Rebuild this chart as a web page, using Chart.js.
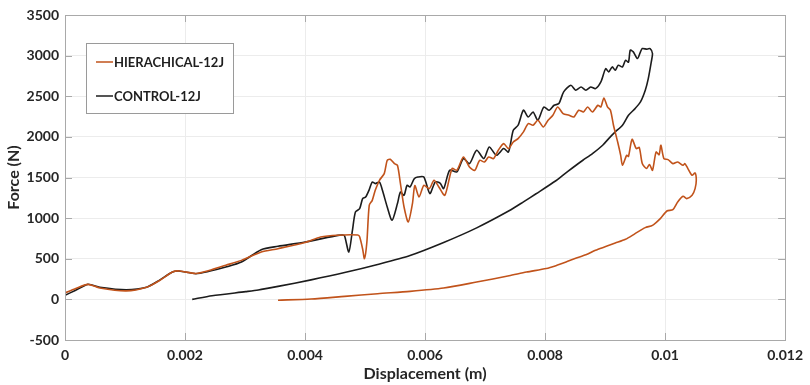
<!DOCTYPE html>
<html>
<head>
<meta charset="utf-8">
<script src="https://cdn.jsdelivr.net/npm/chart.js@4.4.1/dist/chart.umd.min.js"></script>
<style>
  html, body { margin: 0; padding: 0; background: #fff; }
  #wrap { width: 810px; height: 385px; }
</style>
</head>
<body>
<div id="wrap"><canvas id="forceChart" width="810" height="385"></canvas></div>
<script>
// HIERACHICAL-12J: loading then unloading (displacement in m, force in N)
const hierDisp = [
  0, 0.00017, 0.00038, 0.00058, 0.00102, 0.00136, 0.00157, 0.00179, 0.0019, 0.00218,
  0.0024, 0.00268, 0.00294, 0.00327, 0.00355, 0.004, 0.00426, 0.00455, 0.00488, 0.00491,
  0.00496, 0.00499, 0.00503, 0.00507, 0.00512, 0.00517, 0.00524, 0.00532, 0.00537, 0.00542,
  0.00549, 0.00554, 0.00559, 0.00565, 0.00572, 0.00579, 0.00583, 0.0059, 0.00598, 0.00607,
  0.00615, 0.00623, 0.00633, 0.00645, 0.00653, 0.00664, 0.00674, 0.00683, 0.00691, 0.00699,
  0.00706, 0.00714, 0.00722, 0.00731, 0.00739, 0.00747, 0.00755, 0.00764, 0.00772, 0.0078,
  0.00788, 0.00797, 0.00805, 0.00813, 0.00821, 0.0083, 0.0084, 0.00848, 0.00856, 0.00864,
  0.00871, 0.00879, 0.00888, 0.00893, 0.00898, 0.00904, 0.00909, 0.00914, 0.00921, 0.00926,
  0.00929, 0.00936, 0.00939, 0.00945, 0.00952, 0.00957, 0.00962, 0.00969, 0.00974, 0.00979,
  0.00985, 0.0099, 0.00993, 0.00998, 0.01005, 0.01013, 0.01021, 0.0103, 0.01033, 0.01038,
  0.01045, 0.0105, 0.01052,
  0.0105, 0.01045, 0.01036, 0.0103, 0.01021, 0.01013, 0.01003, 0.00992, 0.00979, 0.00967,
  0.0095, 0.00934, 0.00917, 0.00901, 0.00884, 0.00868, 0.00851, 0.00835, 0.00818, 0.00802,
  0.00769, 0.0074, 0.00686, 0.00631, 0.00575, 0.00521, 0.00466, 0.0041, 0.00355
];
const hierForce = [
  80, 130, 185, 140, 105, 150, 230, 336, 350, 318,
  355, 420, 480, 583, 624, 700, 767, 790, 792, 770,
  620, 501, 700, 1158, 1219, 1342, 1466, 1548, 1712, 1724,
  1671, 1650, 1425, 1137, 952, 1179, 1400, 1260, 1404, 1363,
  1466, 1383, 1281, 1610, 1589, 1752, 1629, 1589, 1712, 1691,
  1752, 1733, 1835, 1917, 1856, 1937, 1979, 2061, 2163, 2143,
  2204, 2122, 2204, 2266, 2368, 2287, 2266, 2245, 2328, 2307,
  2368, 2307, 2389, 2368, 2479, 2368, 2328, 2143, 1937, 1773,
  1650, 1773, 1760, 1970, 1856, 1870, 1671, 1610, 1660, 1589,
  1814, 1780, 1897, 1733, 1720, 1671, 1690, 1650, 1671, 1610,
  1527, 1556, 1466,
  1363, 1281, 1240, 1268, 1198, 1104, 1088, 994, 911, 883,
  809, 739, 693, 650, 605, 548, 505, 460, 415, 380,
  336, 290, 213, 139, 98, 70, 37, 4, -10
];

// CONTROL-12J
const ctrlDisp = [
  0, 0.00017, 0.00038, 0.00058, 0.00102, 0.00136, 0.00157, 0.00179, 0.0019, 0.00218,
  0.0024, 0.00268, 0.00294, 0.00327, 0.00355, 0.004, 0.00455, 0.00463, 0.00466, 0.00473,
  0.00479, 0.00484, 0.00491, 0.00496, 0.00501, 0.00507, 0.00512, 0.00517, 0.00524, 0.00529,
  0.00537, 0.00545, 0.00554, 0.00559, 0.00565, 0.0057, 0.00575, 0.00582, 0.00588, 0.00598,
  0.00608, 0.00617, 0.00625, 0.00631, 0.00641, 0.00653, 0.00664, 0.00674, 0.00686, 0.00698,
  0.00707, 0.00719, 0.00731, 0.00739, 0.00747, 0.00755, 0.00764, 0.00772, 0.0078, 0.00788,
  0.00798, 0.00807, 0.00815, 0.00823, 0.00831, 0.00843, 0.00851, 0.0086, 0.00868, 0.00876,
  0.00884, 0.00893, 0.00901, 0.00906, 0.00912, 0.00917, 0.00922, 0.00929, 0.00934, 0.00939,
  0.00942, 0.00947, 0.00954, 0.00959, 0.00962, 0.0097, 0.00975, 0.00979,
  0.00977, 0.00972, 0.00967, 0.00959, 0.0095, 0.00939, 0.00929, 0.00917, 0.00906, 0.00896,
  0.00879, 0.00863, 0.00846, 0.0083, 0.00818, 0.00785, 0.00764, 0.0074, 0.00686, 0.00631,
  0.00575, 0.00521, 0.00466, 0.0041, 0.00355, 0.00322, 0.00301, 0.00245, 0.00212
];
const ctrlForce = [
  50, 110, 185, 150, 119, 150, 234, 336, 349, 316,
  345, 398, 460, 612, 653, 706, 788, 792, 780, 583,
  850, 1075, 1117, 1240, 1260, 1351, 1445, 1425, 1445, 1342,
  1137, 973, 1179, 1321, 1281, 1404, 1383, 1486, 1506, 1506,
  1302, 1445, 1430, 1363, 1589, 1568, 1733, 1671, 1835, 1733,
  1876, 1773, 1856, 1814, 2081, 2143, 2328, 2245, 2307, 2204,
  2368, 2328, 2389, 2410, 2554, 2635, 2574, 2614, 2574, 2614,
  2594, 2676, 2840, 2799, 2861, 2820, 2882, 2860, 2943, 2920,
  3067, 3046, 2964, 3046, 3087, 3079, 3087, 3026,
  2923, 2717, 2574, 2430, 2348, 2266, 2143, 2061, 1979, 1897,
  1794, 1712, 1620, 1530, 1460, 1300, 1200, 1090, 880, 700,
  540, 430, 330, 240, 160, 115, 95, 45, 0
];

const seriesNames = ['HIERACHICAL-12J', 'CONTROL-12J'];
const seriesColors = ['#c1531b', '#1c1c1c'];

const xTicks = { min: 0, max: 0.012, step: 0.002 };
const yTicks = { min: -500, max: 3500, step: 500 };

const FONT = 'Lato';
const TEXT = '#262626';
const BOX = '#a9a9a9';

function toPoints(xs, ys) {
  return xs.map((x, i) => ({ x: x, y: ys[i] }));
}

// box, inward ticks and the legend box, MATLAB style
const framePlugin = {
  id: 'frame',
  afterDraw(chart) {
    const ctx = chart.ctx;
    const a = chart.chartArea;
    const xs = chart.scales.x, ys = chart.scales.y;
    ctx.save();
    ctx.strokeStyle = BOX;
    ctx.lineWidth = 1;
    ctx.strokeRect(Math.round(a.left) + 0.5, Math.round(a.top) + 0.5,
      Math.round(a.right - a.left), Math.round(a.bottom - a.top));
    ctx.beginPath();
    xs.ticks.forEach(t => {
      const px = Math.round(xs.getPixelForValue(t.value)) + 0.5;
      ctx.moveTo(px, a.bottom); ctx.lineTo(px, a.bottom - 7);
      ctx.moveTo(px, a.top); ctx.lineTo(px, a.top + 7);
    });
    ys.ticks.forEach(t => {
      const py = Math.round(ys.getPixelForValue(t.value)) + 0.5;
      ctx.moveTo(a.left, py); ctx.lineTo(a.left + 7, py);
      ctx.moveTo(a.right, py); ctx.lineTo(a.right - 7, py);
    });
    ctx.stroke();

    // legend
    const lx = 86.5, ly = 43.5, lw = 147, lh = 70;
    ctx.fillStyle = '#ffffff';
    ctx.fillRect(lx, ly, lw, lh);
    ctx.strokeStyle = '#9a9a9a';
    ctx.strokeRect(lx, ly, lw, lh);
    ctx.font = 'bold 13px ' + FONT;
    ctx.textBaseline = 'middle';
    ctx.textAlign = 'left';
    [62, 96].forEach((yy, i) => {
      ctx.strokeStyle = seriesColors[i];
      ctx.lineWidth = 1.5;
      ctx.beginPath();
      ctx.moveTo(96, yy); ctx.lineTo(113, yy);
      ctx.stroke();
      ctx.fillStyle = '#1e1e1e';
      ctx.fillText(seriesNames[i], 114, yy + 1);
    });
    ctx.restore();
  }
};

new Chart(document.getElementById('forceChart'), {
  type: 'line',
  data: {
    datasets: [
      {
        label: seriesNames[0],
        data: toPoints(hierDisp, hierForce),
        borderColor: seriesColors[0],
        borderWidth: 1.6,
        pointRadius: 0,
        tension: 0.25,
        fill: false
      },
      {
        label: seriesNames[1],
        data: toPoints(ctrlDisp, ctrlForce),
        borderColor: seriesColors[1],
        borderWidth: 1.6,
        pointRadius: 0,
        tension: 0.25,
        fill: false
      }
    ]
  },
  options: {
    responsive: false,
    animation: false,
    layout: { padding: { left: 0, right: 19, top: 15, bottom: 0 } },
    plugins: {
      legend: { display: false },
      tooltip: { enabled: false }
    },
    scales: {
      x: {
        type: 'linear',
        min: xTicks.min,
        max: xTicks.max,
        afterFit: s => { s.height = 45; },
        grid: { color: '#ececec', drawTicks: false },
        border: { display: false },
        ticks: {
          stepSize: xTicks.step,
          padding: 7,
          color: TEXT,
          font: { family: FONT, size: 14, weight: 'bold' },
          callback: v => String(Number(v.toFixed(3)))
        },
        title: {
          display: true,
          text: 'Displacement (m)',
          color: TEXT,
          padding: { top: 0, bottom: 2 },
          font: { family: FONT, size: 16, weight: 'bold' }
        }
      },
      y: {
        min: yTicks.min,
        max: yTicks.max,
        afterFit: s => { s.width = 65; },
        grid: { color: '#ececec', drawTicks: false },
        border: { display: false },
        ticks: {
          stepSize: yTicks.step,
          padding: 6,
          color: TEXT,
          font: { family: FONT, size: 14, weight: 'bold' },
          callback: v => String(v)
        },
        title: {
          display: true,
          text: 'Force (N)',
          color: TEXT,
          padding: { top: 4, bottom: 0 },
          font: { family: FONT, size: 16, weight: 'bold' }
        }
      }
    }
  },
  plugins: [framePlugin]
});
</script>
</body>
</html>
